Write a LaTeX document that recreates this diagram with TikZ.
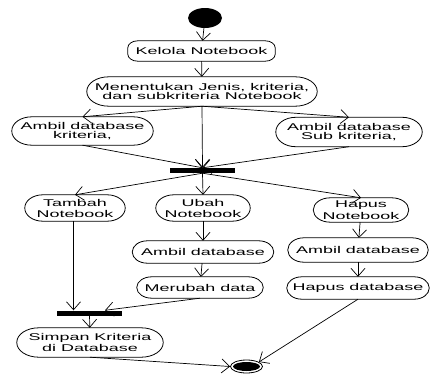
\documentclass[tikz,border=0pt]{standalone}
\usepackage{fontspec}
\setmainfont[FakeStretch=1.83]{Liberation Sans}
\usetikzlibrary{arrows.meta,shapes.geometric}
\newcommand\actbox[3]{%
 \draw[outline] ([xshift=#2pt]#1.north west) -- ([xshift=-#2pt]#1.north east)
   arc[start angle=90,end angle=0,x radius=#2pt,y radius=#3pt]
   -- ([yshift=#3pt]#1.south east)
   arc[start angle=0,end angle=-90,x radius=#2pt,y radius=#3pt]
   -- ([xshift=#2pt]#1.south west)
   arc[start angle=-90,end angle=-180,x radius=#2pt,y radius=#3pt]
   -- ([yshift=-#3pt]#1.north west)
   arc[start angle=180,end angle=90,x radius=#2pt,y radius=#3pt] -- cycle;}
\begin{document}
\begin{tikzpicture}[x=1pt,y=1pt,
  act/.style={draw=none,inner sep=0pt,align=center,font=\fontsize{9.8}{9}\selectfont},
  bar/.style={fill=black,draw=none,inner sep=0pt,minimum width=65pt,minimum height=5pt},
  flow/.style={-{Straight Barb[length=8pt,width=14pt]},line width=0.7pt},
  outline/.style={line width=0.8pt}]
\useasboundingbox (0,0) rectangle (430,376);
% start / end
\node[ellipse,fill=black,inner sep=0pt,minimum width=34pt,minimum height=20pt] (start) at (205,358) {};
\node[ellipse,draw,line width=0.8pt,inner sep=0pt,minimum width=32pt,minimum height=13pt] (end) at (246.5,9.5) {};
\node[ellipse,fill=black,inner sep=0pt,minimum width=27pt,minimum height=9pt] (endin) at (end.center) {};
% activities
\node[act,minimum width=147pt,minimum height=20pt] (kelola) at (201.5,325) {Kelola Notebook};
\node[act,minimum width=230pt,minimum height=29pt] (menentukan) at (202,284.5) {Menentukan Jenis, kriteria,\\dan subkriteria Notebook};
\node[act,minimum width=141pt,minimum height=28pt] (kriteria) at (82.5,245) {Ambil database\\kriteria,};
\node[act,minimum width=146pt,minimum height=29pt] (subkrit) at (349,244) {Ambil database\\Sub kriteria,};
\node[bar] (fork1) at (202.5,205.5) {};
\node[act,minimum width=100pt,minimum height=26pt] (tambah) at (75,168) {Tambah\\[2pt]Notebook};
\node[act,minimum width=94pt,minimum height=26pt] (ubah) at (203,168) {Ubah\\[2pt]Notebook};
\node[act,minimum width=95pt,minimum height=24pt] (hapusN) at (361,166) {Hapus\\[2pt]Notebook};
\node[act,minimum width=141pt,minimum height=22pt] (ambil1) at (203,124) {Ambil database};
\node[act,minimum width=140pt,minimum height=24pt] (ambil2) at (358,126) {Ambil database};
\node[act,minimum width=126pt,minimum height=21pt] (merubah) at (200,88.5) {Merubah data};
\node[act,minimum width=142pt,minimum height=22pt] (hapusdb) at (358,88) {Hapus database};
\node[bar] (fork2) at (89.5,63) {};
\node[act,minimum width=146pt,minimum height=29pt] (simpan) at (90,33.5) {Simpan Kriteria\\[1pt]di Database};
% outlines
\actbox{kelola}{10}{7}
\actbox{menentukan}{22}{14.5}
\actbox{kriteria}{20}{14}
\actbox{subkrit}{20}{14.5}
\actbox{tambah}{18}{13}
\actbox{ubah}{18}{13}
\actbox{hapusN}{17}{12}
\actbox{ambil1}{15}{11}
\actbox{ambil2}{16}{12}
\actbox{merubah}{15}{10.5}
\actbox{hapusdb}{15}{11}
\actbox{simpan}{22}{14.5}
% connectors
\coordinate (f2in) at ([xshift=15.5pt]fork2.north);
\draw[flow] (start) -- (kelola);
\draw[flow] (kelola) -- (menentukan);
\draw[flow] (menentukan.south) -- (kriteria.north);
\draw[flow] (menentukan.south) -- (subkrit.north);
\draw[flow] (menentukan.south) -- (fork1.north);
\draw[flow] (kriteria.south) -- (fork1.north);
\draw[flow] (subkrit.south) -- (fork1.north);
\draw[flow] (fork1.south) -- (tambah.north);
\draw[flow] (fork1.south) -- (ubah.north);
\draw[flow] (fork1.south) -- (hapusN.north);
\draw[flow] (ubah) -- (ambil1);
\draw[flow] (ambil1) -- (merubah);
\draw[flow] (hapusN) -- (ambil2);
\draw[flow] (ambil2) -- (hapusdb);
\draw[flow] ([xshift=-1.5pt]tambah.south) -- ([xshift=-1.5pt]tambah.south |- fork2.north);
\draw[flow] (merubah.south) -- (f2in);
\draw[flow] (fork2) -- (simpan);
\draw[flow] (simpan.south) -- (end.west);
\draw[flow] (hapusdb.south) -- (end.20);
\end{tikzpicture}
\end{document}
